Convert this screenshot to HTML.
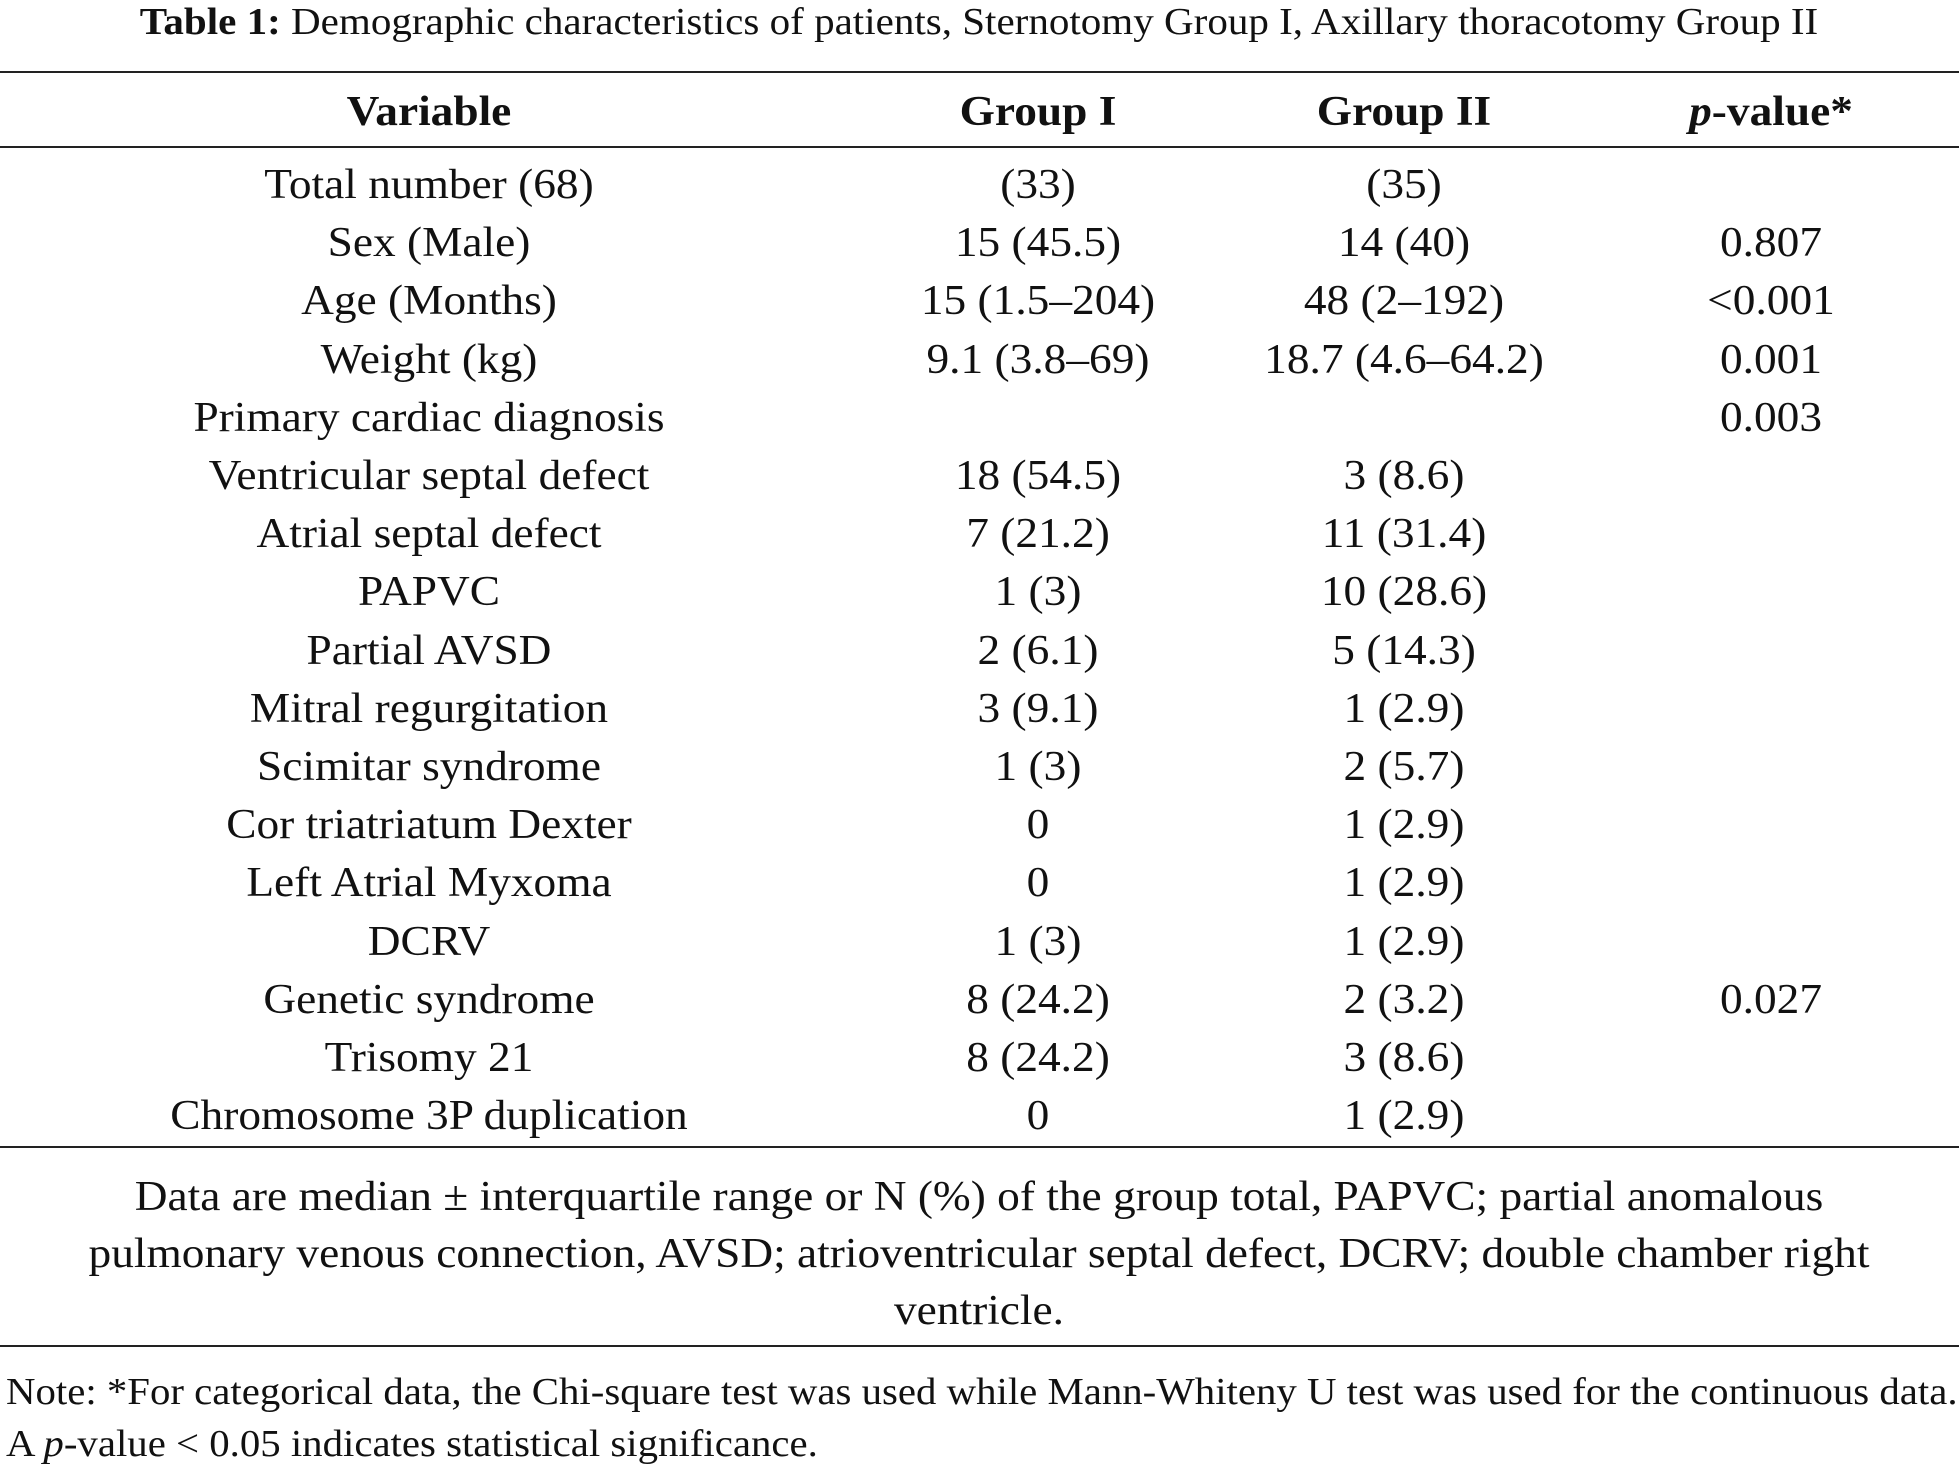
<!DOCTYPE html>
<html><head><meta charset="utf-8"><style>
html,body{margin:0;padding:0;background:#fff}
body{width:1959px;height:1468px;position:relative;overflow:hidden;font-family:"Liberation Serif",serif;color:#111}
.t{position:absolute;white-space:nowrap;transform:translate(-50%,-50%) scaleX(1.08);font-size:42px;line-height:1}
.l{position:absolute;white-space:nowrap;transform:translateY(-50%) scaleX(1.06);transform-origin:left center;font-size:38.5px;line-height:1;left:6px}
.rule{position:absolute;left:0;width:1959px;background:#222}
</style></head><body>
<div class="t" style="left:979px;top:22px;font-size:38px"><b>Table 1:</b> Demographic characteristics of patients, Sternotomy Group I, Axillary thoracotomy Group II</div>
<div class="rule" style="top:71px;height:2px"></div>
<div class="t" style="left:429px;top:112px;font-weight:bold">Variable</div>
<div class="t" style="left:1038px;top:112px;font-weight:bold">Group I</div>
<div class="t" style="left:1404px;top:112px;font-weight:bold">Group II</div>
<div class="t" style="left:1771px;top:112px;font-weight:bold"><i>p</i>-value*</div>
<div class="rule" style="top:146px;height:2px"></div>
<div id="rows"></div>
<div class="rule" style="top:1146px;height:2px"></div>
<div class="t" style="left:979px;top:1197px">Data are median ± interquartile range or N (%) of the group total, PAPVC; partial anomalous</div>
<div class="t" style="left:979px;top:1254px">pulmonary venous connection, AVSD; atrioventricular septal defect, DCRV; double chamber right</div>
<div class="t" style="left:979px;top:1311px">ventricle.</div>
<div class="rule" style="top:1345px;height:2px"></div>
<div class="l" style="top:1392px">Note: *For categorical data, the Chi-square test was used while Mann-Whiteny U test was used for the continuous data.</div>
<div class="l" style="top:1444px">A <i>p</i>-value &lt; 0.05 indicates statistical significance.</div>
<script>
const variables=["Total number (68)","Sex (Male)","Age (Months)","Weight (kg)","Primary cardiac diagnosis","Ventricular septal defect","Atrial septal defect","PAPVC","Partial AVSD","Mitral regurgitation","Scimitar syndrome","Cor triatriatum Dexter","Left Atrial Myxoma","DCRV","Genetic syndrome","Trisomy 21","Chromosome 3P duplication"];
const group1=["(33)","15 (45.5)","15 (1.5–204)","9.1 (3.8–69)","","18 (54.5)","7 (21.2)","1 (3)","2 (6.1)","3 (9.1)","1 (3)","0","0","1 (3)","8 (24.2)","8 (24.2)","0"];
const group2=["(35)","14 (40)","48 (2–192)","18.7 (4.6–64.2)","","3 (8.6)","11 (31.4)","10 (28.6)","5 (14.3)","1 (2.9)","2 (5.7)","1 (2.9)","1 (2.9)","1 (2.9)","2 (3.2)","3 (8.6)","1 (2.9)"];
const pvals=["","0.807","<0.001","0.001","0.003","","","","","","","","","","0.027","",""];
const host=document.getElementById('rows');
const cols=[[variables,429,'variable'],[group1,1038,'group-1'],[group2,1404,'group-2'],[pvals,1771,'p-value']];
variables.forEach((v,i)=>{
  const y=185+i*58.2;
  cols.forEach(([arr,x,n])=>{
    if(!arr[i])return;
    const d=document.createElement('div');
    d.className='t';
    d.style.left=x+'px';d.style.top=y+'px';
    d.textContent=arr[i];
    
    
    host.appendChild(d);
  });
});
</script>
</body></html>
